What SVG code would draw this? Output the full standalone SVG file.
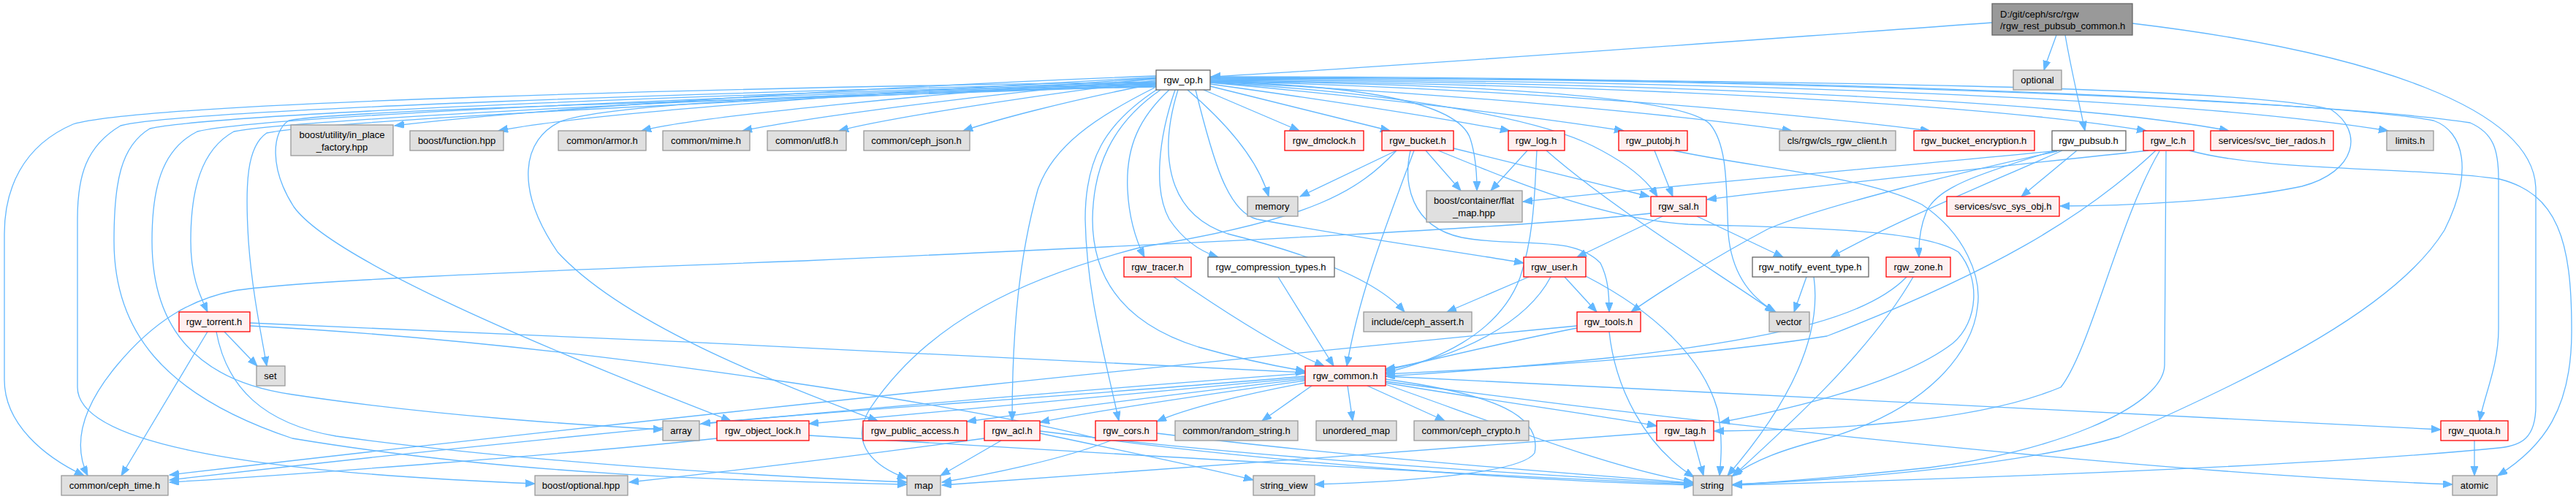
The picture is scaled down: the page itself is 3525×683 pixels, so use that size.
<svg xmlns="http://www.w3.org/2000/svg" width="3525" height="683" viewBox="0 0 3525 683">
<defs>
<marker id="a" markerWidth="14" markerHeight="11" refX="13" refY="5" orient="auto" markerUnits="userSpaceOnUse"><path d="M0,0 L13,5 L0,10 z" fill="#63b8ff" stroke="#63b8ff" stroke-width="1"/></marker>
<style>
.e{fill:none;stroke:#63b8ff;stroke-width:1.3;marker-end:url(#a)}
.r{fill:#fff0f0;stroke:#ff0000;stroke-width:1.3}
.g{fill:#e0e0e0;stroke:#999999;stroke-width:1.3}
.w{fill:#ffffff;stroke:#666666;stroke-width:1.3}
.k{fill:#999999;stroke:#666666;stroke-width:1.3}
text{font-family:"Liberation Sans",Arial,Helvetica,sans-serif;font-size:13px;fill:#000000;text-anchor:middle}
text.l{text-anchor:start}
</style>
</defs>
<rect width="3525" height="683" fill="#ffffff"/>
<g id="edges">
<path class="e" d="M2726,31 C2350,58 1900,92 1657,105"/>
<path class="e" d="M2814,48 C2808,65 2802,80 2797,96"/>
<path class="e" d="M2826,48 C2834,95 2845,140 2853,179"/>
<path class="e" d="M2918,32 C3250,72 3470,150 3470,260 L3470,555 C3470,600 3450,610 3420,613 C3150,640 2600,658 2371,664"/>
<path class="e" d="M1582,104 C1200,118 720,150 540,172"/>
<path class="e" d="M1582,106 C1250,122 800,155 682,179"/>
<path class="e" d="M1582,107 C1300,125 950,160 878,179"/>
<path class="e" d="M1582,108 C1330,130 1100,162 1016,179"/>
<path class="e" d="M1582,110 C1380,135 1200,165 1148,179"/>
<path class="e" d="M1583,114 C1450,140 1360,165 1318,179"/>
<path class="e" d="M1647,123 L1778,179"/>
<path class="e" d="M1656,118 L1902,179"/>
<path class="e" d="M1656,115 C1800,135 1950,158 2066,179"/>
<path class="e" d="M1656,113 C1900,135 2100,160 2222,179"/>
<path class="e" d="M1656,112 C2000,128 2300,158 2452,179"/>
<path class="e" d="M1656,111 C2100,122 2450,155 2641,179"/>
<path class="e" d="M1656,110 C2200,116 2700,140 2937,179"/>
<path class="e" d="M1656,109 C2300,113 2850,140 3050,179"/>
<path class="e" d="M1656,108 C2400,111 3000,135 3268,179"/>
<path class="e" d="M1656,107 C2500,109 3080,120 3190,150 C3235,180 3225,235 3150,255 C3050,276 2900,282 2819,282"/>
<path class="e" d="M1656,106 C2500,107 3200,140 3380,168 C3412,182 3419,205 3419,245 L3419,450 C3419,500 3400,540 3393,576"/>
<path class="e" d="M1656,105 C2500,105 3200,140 3330,165 C3372,180 3385,235 3345,315 C3280,420 3100,510 2900,598 C2750,640 2500,658 2371,663"/>
<path class="e" d="M1625,123 C1680,170 1722,220 1736,269"/>
<path class="e" d="M1656,112 C1850,116 1995,138 2012,190 C2020,215 2021,240 2021,261"/>
<path class="e" d="M1656,113 C1900,126 2100,160 2180,200 C2230,225 2256,250 2268,269"/>
<path class="e" d="M1656,111 C2000,115 2300,130 2340,170 C2365,200 2362,260 2365,320 C2370,380 2400,410 2430,427"/>
<path class="e" d="M1636,123 C1660,220 1680,290 1720,300 C1850,325 2000,345 2085,360"/>
<path class="e" d="M1612,123 C1588,200 1590,290 1680,320 C1800,350 1885,385 1922,427"/>
<path class="e" d="M1600,123 C1560,160 1540,200 1543,260 C1545,300 1555,330 1566,352"/>
<path class="e" d="M1608,123 C1585,190 1578,260 1600,300 C1620,330 1645,345 1667,352"/>
<path class="e" d="M1580,120 C1500,160 1440,200 1420,260 C1395,350 1385,450 1385,576"/>
<path class="e" d="M1584,122 C1510,170 1485,220 1485,300 C1487,400 1510,480 1531,576"/>
<path class="e" d="M1588,123 C1520,170 1496,230 1495,300 C1495,400 1560,450 1640,475 C1700,492 1750,502 1786,508"/>
<path class="e" d="M1582,112 C1000,120 200,140 100,170 C30,200 6,260 6,320 L6,520 C6,580 60,625 115,651"/>
<path class="e" d="M1582,113 C1000,125 250,150 165,172 C118,200 106,240 106,300 L106,530 C106,600 300,645 732,662"/>
<path class="e" d="M1582,114 C1000,128 300,155 205,176 C165,200 156,250 156,330 C156,450 220,540 400,600 C700,650 1000,658 1241,663"/>
<path class="e" d="M1582,115 C1000,130 350,160 270,180 C220,205 208,260 208,330 C208,440 260,520 400,540 C600,570 800,582 907,588"/>
<path class="e" d="M1582,116 C1000,132 400,165 320,180 C275,205 261,260 261,330 C261,380 274,405 284,427"/>
<path class="e" d="M1582,117 C1000,135 430,168 365,182 C338,200 335,250 340,330 C345,400 358,460 365,501"/>
<path class="e" d="M1582,118 C1000,138 470,150 395,165 C372,180 368,230 402,283 C450,350 700,460 1000,576"/>
<path class="e" d="M1582,119 C1200,125 850,140 770,165 C712,190 705,260 763,345 C850,440 1050,520 1201,576"/>
<path class="e" d="M1911,206 L1779,269"/>
<path class="e" d="M1951,206 L1999,261"/>
<path class="e" d="M1935,206 C1900,300 1860,400 1843,501"/>
<path class="e" d="M1989,203 L2257,269"/>
<path class="e" d="M1930,206 C1920,250 1930,310 2000,325 C2080,340 2150,320 2190,360 C2200,380 2202,400 2202,427"/>
<path class="e" d="M1911,206 C1860,260 1800,300 1563,338 C1400,380 1270,440 1190,560 C1160,610 1200,640 1241,655"/>
<path class="e" d="M1968,206 C2100,260 2200,300 2310,307 C2450,312 2630,312 2680,345 C2710,380 2708,440 2672,470 C2600,525 2450,560 2354,578"/>
<path class="e" d="M2090,206 L2040,261"/>
<path class="e" d="M2103,206 C2100,260 2100,320 2080,380 C2050,460 1960,495 1896,510"/>
<path class="e" d="M2116,206 C2200,280 2330,360 2428,427"/>
<path class="e" d="M2264,206 L2289,269"/>
<path class="e" d="M2290,206 C2400,230 2550,240 2630,280 C2690,320 2712,380 2706,420 C2700,480 2640,560 2500,600 C2440,615 2400,630 2370,652"/>
<path class="e" d="M2275,296 L2158,352"/>
<path class="e" d="M2322,296 L2440,352"/>
<path class="e" d="M2259,292 C2100,310 1700,330 1100,357 C700,372 400,385 320,398 C260,410 210,440 160,500 C110,560 100,610 120,651"/>
<path class="e" d="M2842,206 L2766,269"/>
<path class="e" d="M2818,206 C2600,228 2300,252 2084,276"/>
<path class="e" d="M2815,207 C2700,232 2500,280 2420,313 C2350,350 2270,400 2232,427"/>
<path class="e" d="M2812,206 C2700,240 2650,258 2636,290 C2628,310 2625,330 2626,352"/>
<path class="e" d="M2822,206 C2700,260 2600,300 2505,352"/>
<path class="e" d="M2940,206 C2700,232 2500,252 2336,273"/>
<path class="e" d="M2950,206 C2850,300 2720,375 2500,460 C2300,492 2000,507 1896,512"/>
<path class="e" d="M2955,207 C2900,300 2860,480 2820,530 C2700,580 2500,588 2346,590"/>
<path class="e" d="M2964,207 L2962,500 C2960,560 2800,620 2640,640 C2500,655 2420,660 2371,664"/>
<path class="e" d="M2996,206 C3100,235 3300,228 3420,245 C3500,265 3519,330 3519,450 C3520,560 3480,612 3418,651"/>
<path class="e" d="M2609,379 C2560,430 2450,462 2200,490 C2050,505 1950,512 1896,515"/>
<path class="e" d="M2618,379 C2560,480 2450,580 2372,651"/>
<path class="e" d="M2472,379 L2455,427"/>
<path class="e" d="M2482,379 C2492,450 2460,540 2364,651"/>
<path class="e" d="M2092,379 L1980,427"/>
<path class="e" d="M2122,379 C2090,440 2000,490 1896,505"/>
<path class="e" d="M2141,379 L2185,427"/>
<path class="e" d="M2170,378 C2265,427 2330,490 2350,560 C2358,600 2355,630 2353,651"/>
<path class="e" d="M2158,449 C2050,470 1950,495 1896,507"/>
<path class="e" d="M2202,454 C2210,530 2250,610 2318,653"/>
<path class="e" d="M2158,446 C1800,480 1000,560 232,650"/>
<path class="e" d="M1749,379 L1825,501"/>
<path class="e" d="M1606,379 C1680,430 1760,480 1812,501"/>
<path class="e" d="M342,442 C800,460 1400,490 1786,510"/>
<path class="e" d="M342,446 C800,470 1350,560 1500,600 C1800,640 2150,660 2317,664"/>
<path class="e" d="M307,454 L352,501"/>
<path class="e" d="M284,454 L166,651"/>
<path class="e" d="M296,454 C310,530 360,580 460,597 C700,630 1000,650 1241,660"/>
<path class="e" d="M1786,515 C1500,540 1100,565 959,580"/>
<path class="e" d="M1786,517 C1500,545 1250,565 1107,580"/>
<path class="e" d="M1786,519 C1600,540 1450,560 1323,577"/>
<path class="e" d="M1786,521 C1650,540 1500,562 1423,578"/>
<path class="e" d="M1786,524 C1700,540 1620,560 1583,577"/>
<path class="e" d="M1795,528 L1727,576"/>
<path class="e" d="M1844,528 L1851,576"/>
<path class="e" d="M1871,528 L1977,576"/>
<path class="e" d="M1896,524 C2050,550 2200,570 2267,583"/>
<path class="e" d="M1896,526 C2050,580 2200,640 2317,660"/>
<path class="e" d="M1896,519 C2050,540 2110,570 2100,620 C2080,650 1900,660 1799,663"/>
<path class="e" d="M1896,515 C2400,540 3000,570 3340,588"/>
<path class="e" d="M1896,522 C2400,590 3000,650 3356,663"/>
<path class="e" d="M1786,511 C1400,540 900,580 232,657"/>
<path class="e" d="M1370,603 L1287,651"/>
<path class="e" d="M1423,593 C1550,620 1650,640 1715,657"/>
<path class="e" d="M1423,590 C1700,625 2100,650 2317,662"/>
<path class="e" d="M1347,600 C1200,620 1000,645 861,660"/>
<path class="e" d="M1520,603 C1450,630 1350,650 1289,660"/>
<path class="e" d="M1583,593 C1800,620 2100,645 2317,661"/>
<path class="e" d="M981,600 C800,620 400,650 232,660"/>
<path class="e" d="M1107,596 C1500,620 2000,650 2317,663"/>
<path class="e" d="M2318,603 L2331,651"/>
<path class="e" d="M2267,592 C2000,612 1500,650 1289,664"/>
<path class="e" d="M3386,603 L3386,651"/>
</g>
<g id="n_root"><rect class="k" x="2726" y="5" width="192" height="43"/><text class="l" x="2737" y="24">D:/git/ceph/src/rgw</text><text class="l" x="2737" y="40">/rgw_rest_pubsub_common.h</text></g>
<g id="n_op"><rect class="w" x="1582" y="96" width="74" height="27"/><text x="1619" y="114">rgw_op.h</text></g>
<g id="n_optional"><rect class="g" x="2755" y="96" width="66" height="27"/><text x="2788" y="114">optional</text></g>
<g id="n_inplace"><rect class="g" x="398" y="171" width="140" height="42"/><text x="468" y="189">boost/utility/in_place</text><text x="468" y="206">_factory.hpp</text></g>
<g id="n_function"><rect class="g" x="561" y="179" width="128" height="27"/><text x="625" y="197">boost/function.hpp</text></g>
<g id="n_armor"><rect class="g" x="764" y="179" width="120" height="27"/><text x="824" y="197">common/armor.h</text></g>
<g id="n_mime"><rect class="g" x="907" y="179" width="119" height="27"/><text x="966" y="197">common/mime.h</text></g>
<g id="n_utf8"><rect class="g" x="1050" y="179" width="108" height="27"/><text x="1104" y="197">common/utf8.h</text></g>
<g id="n_cephjson"><rect class="g" x="1182" y="179" width="145" height="27"/><text x="1254" y="197">common/ceph_json.h</text></g>
<g id="n_dmclock"><rect class="r" x="1758" y="179" width="108" height="27"/><text x="1812" y="197">rgw_dmclock.h</text></g>
<g id="n_bucket"><rect class="r" x="1891" y="179" width="98" height="27"/><text x="1940" y="197">rgw_bucket.h</text></g>
<g id="n_log"><rect class="r" x="2064" y="179" width="77" height="27"/><text x="2102" y="197">rgw_log.h</text></g>
<g id="n_putobj"><rect class="r" x="2215" y="179" width="94" height="27"/><text x="2262" y="197">rgw_putobj.h</text></g>
<g id="n_cls"><rect class="g" x="2435" y="179" width="159" height="27"/><text x="2514" y="197">cls/rgw/cls_rgw_client.h</text></g>
<g id="n_benc"><rect class="r" x="2619" y="179" width="165" height="27"/><text x="2701" y="197">rgw_bucket_encryption.h</text></g>
<g id="n_pubsub"><rect class="w" x="2808" y="179" width="101" height="27"/><text x="2858" y="197">rgw_pubsub.h</text></g>
<g id="n_lc"><rect class="r" x="2933" y="179" width="69" height="27"/><text x="2967" y="197">rgw_lc.h</text></g>
<g id="n_tier"><rect class="r" x="3025" y="179" width="168" height="27"/><text x="3109" y="197">services/svc_tier_rados.h</text></g>
<g id="n_limits"><rect class="g" x="3266" y="179" width="64" height="27"/><text x="3298" y="197">limits.h</text></g>
<g id="n_memory"><rect class="g" x="1707" y="269" width="69" height="27"/><text x="1741" y="287">memory</text></g>
<g id="n_flatmap"><rect class="g" x="1952" y="261" width="131" height="43"/><text x="2017" y="279">boost/container/flat</text><text x="2017" y="296">_map.hpp</text></g>
<g id="n_sal"><rect class="r" x="2259" y="269" width="76" height="27"/><text x="2297" y="287">rgw_sal.h</text></g>
<g id="n_sysobj"><rect class="r" x="2664" y="269" width="154" height="27"/><text x="2741" y="287">services/svc_sys_obj.h</text></g>
<g id="n_torrent"><rect class="r" x="245" y="427" width="97" height="27"/><text x="293" y="445">rgw_torrent.h</text></g>
<g id="n_set"><rect class="g" x="351" y="501" width="39" height="27"/><text x="370" y="519">set</text></g>
<g id="n_cephtime"><rect class="g" x="84" y="651" width="146" height="27"/><text x="157" y="669">common/ceph_time.h</text></g>
<g id="n_boptional"><rect class="g" x="732" y="651" width="127" height="27"/><text x="795" y="669">boost/optional.hpp</text></g>
<g id="n_tracer"><rect class="r" x="1538" y="352" width="92" height="27"/><text x="1584" y="370">rgw_tracer.h</text></g>
<g id="n_compression"><rect class="w" x="1653" y="352" width="173" height="27"/><text x="1739" y="370">rgw_compression_types.h</text></g>
<g id="n_user"><rect class="r" x="2085" y="352" width="85" height="27"/><text x="2127" y="370">rgw_user.h</text></g>
<g id="n_notify"><rect class="w" x="2398" y="352" width="159" height="27"/><text x="2477" y="370">rgw_notify_event_type.h</text></g>
<g id="n_zone"><rect class="r" x="2581" y="352" width="88" height="27"/><text x="2625" y="370">rgw_zone.h</text></g>
<g id="n_assert"><rect class="g" x="1866" y="427" width="148" height="27"/><text x="1940" y="445">include/ceph_assert.h</text></g>
<g id="n_tools"><rect class="r" x="2158" y="427" width="87" height="27"/><text x="2201" y="445">rgw_tools.h</text></g>
<g id="n_vector"><rect class="g" x="2421" y="427" width="55" height="27"/><text x="2448" y="445">vector</text></g>
<g id="n_common"><rect class="r" x="1786" y="501" width="110" height="27"/><text x="1841" y="519">rgw_common.h</text></g>
<g id="n_array"><rect class="g" x="907" y="576" width="50" height="27"/><text x="932" y="594">array</text></g>
<g id="n_objlock"><rect class="r" x="981" y="576" width="126" height="27"/><text x="1044" y="594">rgw_object_lock.h</text></g>
<g id="n_pubacc"><rect class="r" x="1181" y="576" width="142" height="27"/><text x="1252" y="594">rgw_public_access.h</text></g>
<g id="n_acl"><rect class="r" x="1347" y="576" width="76" height="27"/><text x="1385" y="594">rgw_acl.h</text></g>
<g id="n_cors"><rect class="r" x="1499" y="576" width="84" height="27"/><text x="1541" y="594">rgw_cors.h</text></g>
<g id="n_randstr"><rect class="g" x="1608" y="576" width="168" height="27"/><text x="1692" y="594">common/random_string.h</text></g>
<g id="n_umap"><rect class="g" x="1801" y="576" width="110" height="27"/><text x="1856" y="594">unordered_map</text></g>
<g id="n_crypto"><rect class="g" x="1935" y="576" width="157" height="27"/><text x="2013" y="594">common/ceph_crypto.h</text></g>
<g id="n_tag"><rect class="r" x="2267" y="576" width="78" height="27"/><text x="2306" y="594">rgw_tag.h</text></g>
<g id="n_quota"><rect class="r" x="3340" y="576" width="92" height="27"/><text x="3386" y="594">rgw_quota.h</text></g>
<g id="n_map"><rect class="g" x="1241" y="651" width="46" height="27"/><text x="1264" y="669">map</text></g>
<g id="n_sview"><rect class="g" x="1715" y="651" width="84" height="27"/><text x="1757" y="669">string_view</text></g>
<g id="n_string"><rect class="g" x="2317" y="651" width="53" height="27"/><text x="2343" y="669">string</text></g>
<g id="n_atomic"><rect class="g" x="3356" y="651" width="61" height="27"/><text x="3386" y="669">atomic</text></g>
</svg>
